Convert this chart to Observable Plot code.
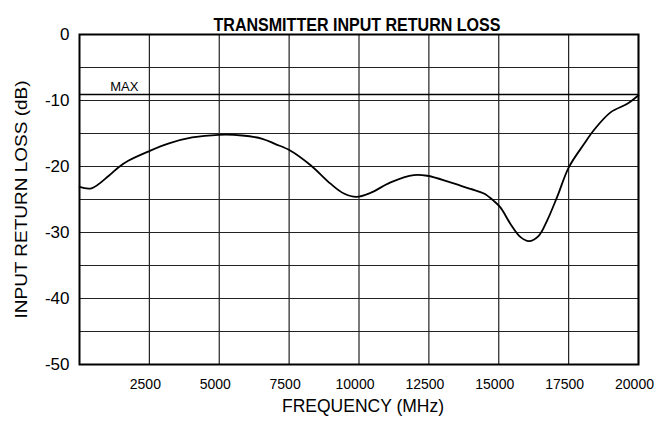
<!DOCTYPE html>
<html><head><meta charset="utf-8">
<script src="https://cdn.jsdelivr.net/npm/d3@7"></script>
<script src="https://cdn.jsdelivr.net/npm/@observablehq/plot@0.6"></script>
<style>
body{margin:0;background:#fff;}
svg{display:block;}
</style>
</head><body>
<div id="chart"></div>
<script>
const titleText = "TRANSMITTER INPUT RETURN LOSS";
const xLabel = "FREQUENCY (MHz)";
const yLabel = "INPUT RETURN LOSS (dB)";
const xTicks = [2500, 5000, 7500, 10000, 12500, 15000, 17500, 20000];
const yTicks = [0, -10, -20, -30, -40, -50];
const yMinorGrid = [-5, -15, -25, -35, -45];
const maxLimit = -9.1;
const maxLabel = "MAX";

const freq = [0, 430, 1050, 1400, 1760, 2480, 3200, 4030, 4980, 5820, 6540, 7010, 7550, 8270, 8980, 9460, 9910, 10410, 11130, 11960, 12440, 13270, 13990, 14470, 14820, 15060, 15420, 15780, 16080, 16430, 16730, 17090, 17510, 18050, 18400, 19000, 19600, 20000];
const loss = [-23.1, -23.3, -21.4, -20.1, -19.1, -17.7, -16.5, -15.6, -15.2, -15.3, -15.8, -16.6, -17.6, -19.8, -22.6, -24.1, -24.6, -24.0, -22.4, -21.3, -21.4, -22.4, -23.4, -24.1, -25.2, -26.2, -28.7, -30.7, -31.3, -30.5, -28.2, -24.6, -20.1, -16.6, -14.5, -11.8, -10.5, -9.2];

const data = freq.map((f, i) => ({f, v: loss[i]}));
const font = "Liberation Sans, Arial, sans-serif";

const chart = Plot.plot({
  width: 656, height: 427,
  marginLeft: 79, marginRight: 18, marginTop: 34, marginBottom: 63,
  style: {fontFamily: font, background: "#fff", color: "#000"},
  x: {domain: [0, 20000]},
  y: {domain: [-50, 0]},
  marks: [
    Plot.ruleX(xTicks, {stroke: "#222", strokeWidth: 1.2}),
    Plot.ruleY(yTicks.concat(yMinorGrid), {stroke: "#222", strokeWidth: 1.2}),
    Plot.ruleY([maxLimit], {stroke: "#000", strokeWidth: 1.6}),
    Plot.text([maxLabel], {x: 1100, y: maxLimit, text: d => d, textAnchor: "start", dy: -8, fontSize: 13, fill: "#000"}),
    Plot.line(data, {x: "f", y: "v", curve: "catmull-rom", stroke: "#000", strokeWidth: 1.8}),
    Plot.frame({stroke: "#000", strokeWidth: 2}),
    Plot.axisX({ticks: xTicks, tickSize: 0, tickPadding: 15, dx: -4, fontSize: 14, tickFormat: d => String(d), label: null}),
    Plot.axisY({ticks: yTicks, tickSize: 0, tickPadding: 10, fontSize: 17, tickFormat: d => String(d), label: null}),
    Plot.text([xLabel], {frameAnchor: "bottom", dx: 4, dy: 47, fontSize: 17.5, fill: "#000"}),
    Plot.text([yLabel], {frameAnchor: "left", textAnchor: "middle", dx: -58, rotate: -90, fontSize: 16.5, fill: "#000"}),
    Plot.text([titleText], {frameAnchor: "top", dx: -2, dy: -17, fontSize: 19, fontWeight: "bold", fill: "#000", fontFamily: "Liberation Sans Narrow, Liberation Sans, Arial, sans-serif"})
  ]
});
const sel = d3.select(chart);
sel.selectAll("text").filter(function(){ return this.textContent === titleText; })
  .attr("textLength", 287).attr("lengthAdjust", "spacingAndGlyphs");
sel.selectAll("text").filter(function(){ return this.textContent === yLabel; })
  .attr("textLength", 238).attr("lengthAdjust", "spacingAndGlyphs");
document.getElementById("chart").appendChild(chart);
</script>
</body></html>
